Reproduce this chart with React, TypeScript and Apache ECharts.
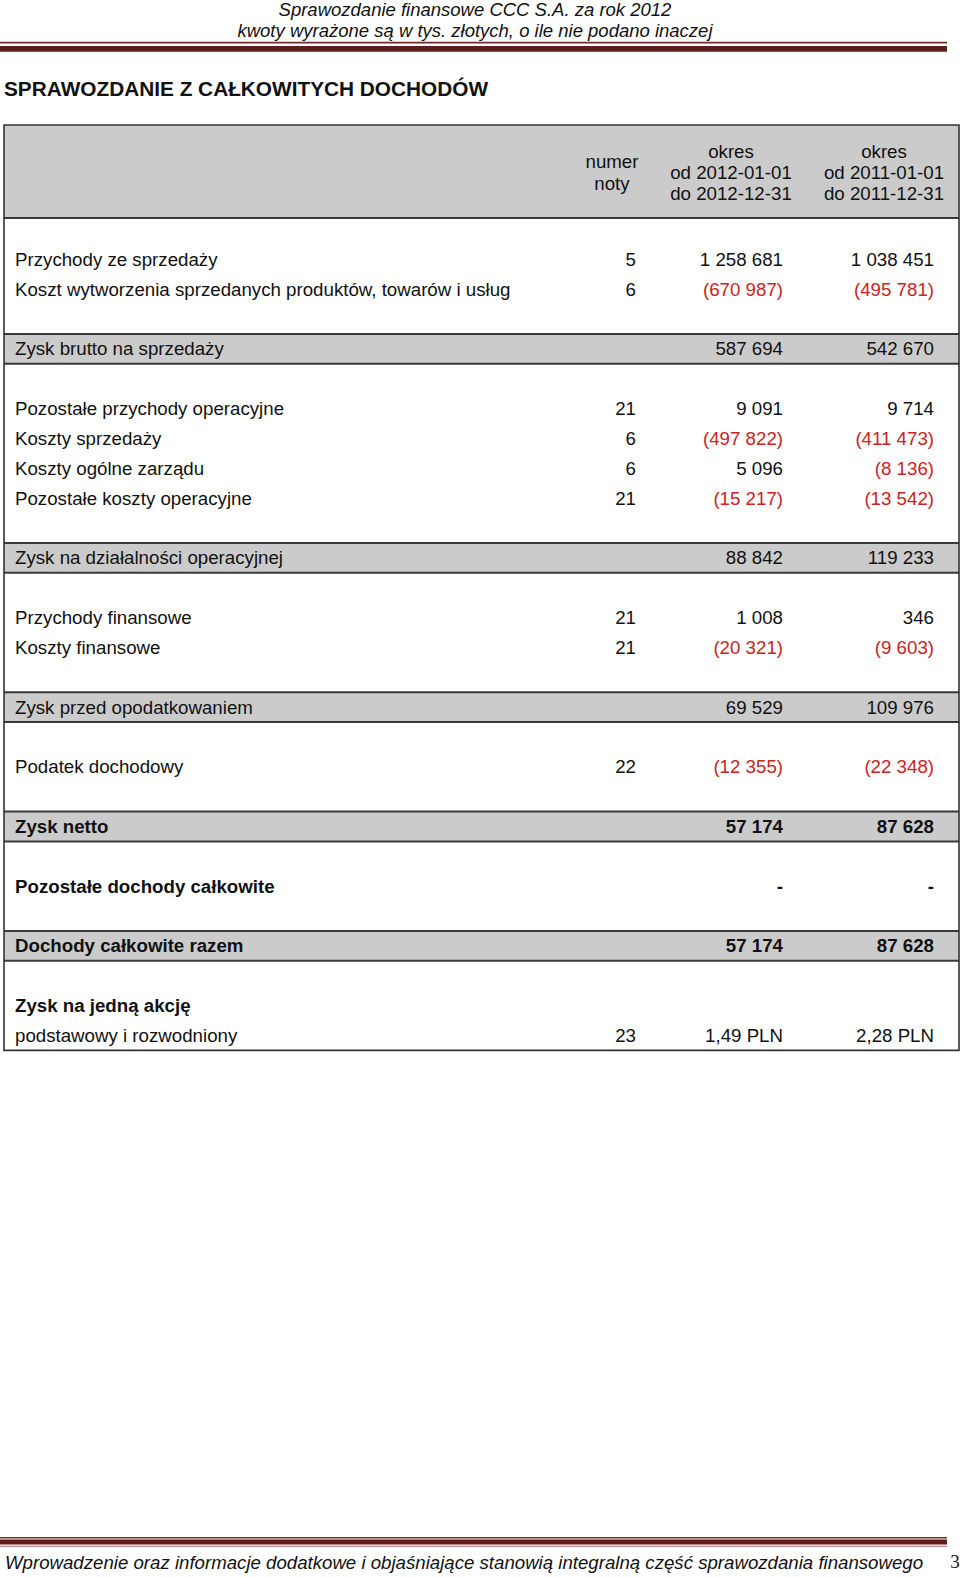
import React, { useEffect, useRef } from "react";
import * as echarts from "echarts";

// ---- data ----
const pageTitleLines = [
  "Sprawozdanie finansowe CCC S.A. za rok 2012",
  "kwoty wyrażone są w tys. złotych, o ile nie podano inaczej",
];
const statementTitle = "SPRAWOZDANIE Z CAŁKOWITYCH DOCHODÓW";
const noteHeader = ["numer", "noty"];
const periodHeaders2012 = ["okres", "od 2012-01-01", "do 2012-12-31"];
const periodHeaders2011 = ["okres", "od 2011-01-01", "do 2011-12-31"];

const rowLabels = [
  "Przychody ze sprzedaży",
  "Koszt wytworzenia sprzedanych produktów, towarów i usług",
  "Zysk brutto na sprzedaży",
  "Pozostałe przychody operacyjne",
  "Koszty sprzedaży",
  "Koszty ogólne zarządu",
  "Pozostałe koszty operacyjne",
  "Zysk na działalności operacyjnej",
  "Przychody finansowe",
  "Koszty finansowe",
  "Zysk przed opodatkowaniem",
  "Podatek dochodowy",
  "Zysk netto",
  "Pozostałe dochody całkowite",
  "Dochody całkowite razem",
  "Zysk na jedną akcję",
  "podstawowy i rozwodniony",
];
const noteNumbers = ["5", "6", "", "21", "6", "6", "21", "", "21", "21", "", "22", "", "", "", "", "23"];
const amounts2012: (number | null)[] = [
  1258681, -670987, 587694, 9091, -497822, 5096, -15217, 88842, 1008, -20321, 69529, -12355, 57174, 0, 57174, null, 1.49,
];
const amounts2011: (number | null)[] = [
  1038451, -495781, 542670, 9714, -411473, -8136, -13542, 119233, 346, -9603, 109976, -22348, 87628, 0, 87628, null, 2.28,
];
// item | band | bandBold | itemBold | heading
const rowKinds = [
  "item", "item", "band", "item", "item", "item", "item", "band", "item", "item", "band", "item",
  "bandBold", "itemBold", "bandBold", "heading", "item",
];
// thousands | pln
const amountFormats = [
  "k", "k", "k", "k", "k", "k", "k", "k", "k", "k", "k", "k", "k", "k", "k", "k", "pln",
];
const footerText =
  "Wprowadzenie oraz informacje dodatkowe i objaśniające stanowią integralną część sprawozdania finansowego";
const pageNumber = "3";

// ---- styling / layout ----
const FONT = "'Liberation Sans', Arial, sans-serif";
const FS = 18.7;
const RED = "#cc2222";
const INK = "#111111";
const GRAY = "#cbcbcb";
const LINE = "#3a3a3a";
const MAROON = "#5e1d1d";

const TABLE_L = 4;
const TABLE_R = 959;
const TABLE_T = 125;
const HEADER_B = 218;
const FIRST_ROW_T = 244.45;
const ROW_H = 29.85;
const LABEL_X = 15;
const NOTE_R = 636;
const V1_R = 783;
const V2_R = 934;

function groupThousands(n: number): string {
  const s = String(Math.round(Math.abs(n)));
  return s.replace(/\B(?=(\d{3})+(?!\d))/g, " ");
}

function formatAmount(v: number | null, fmt: string): { text: string; neg: boolean } {
  if (v === null) return { text: "", neg: false };
  if (fmt === "pln") return { text: v.toFixed(2).replace(".", ",") + " PLN", neg: v < 0 };
  if (v === 0) return { text: "-", neg: false };
  if (v < 0) return { text: "(" + groupThousands(v) + ")", neg: true };
  return { text: groupThousands(v), neg: false };
}

function txt(text: string, x: number, y: number, align: string, font: string, fill: string) {
  return {
    type: "text",
    silent: true,
    z: 10,
    style: {
      text,
      x,
      y,
      font,
      fill,
      textAlign: align,
      textVerticalAlign: "middle",
      align,
      verticalAlign: "middle",
    },
  };
}

function buildGraphics() {
  const els: any[] = [];
  const reg = `${FS}px ${FONT}`;
  const bold = `bold ${FS}px ${FONT}`;
  const ital = `italic 18.5px ${FONT}`;

  // page header
  els.push(txt(pageTitleLines[0], 475, 9.5, "center", ital, INK));
  els.push(txt(pageTitleLines[1], 475, 30.5, "center", ital, INK));
  els.push({ type: "rect", silent: true, shape: { x: 0, y: 41.8, width: 947, height: 1.6 }, style: { fill: "#6e2b2b" } });
  els.push({ type: "rect", silent: true, shape: { x: 0, y: 46, width: 947, height: 5.7 }, style: { fill: MAROON } });

  els.push(txt(statementTitle, 4, 88, "left", `bold 20.8px ${FONT}`, INK));

  // table header
  els.push({
    type: "rect",
    silent: true,
    shape: { x: TABLE_L, y: TABLE_T, width: TABLE_R - TABLE_L, height: HEADER_B - TABLE_T },
    style: { fill: GRAY },
  });
  els.push(txt(noteHeader[0], 612, 161.5, "center", reg, INK));
  els.push(txt(noteHeader[1], 612, 183, "center", reg, INK));
  const hy = [151, 172, 193.5];
  periodHeaders2012.forEach((t, i) => els.push(txt(t, 731, hy[i], "center", reg, INK)));
  periodHeaders2011.forEach((t, i) => els.push(txt(t, 884, hy[i], "center", reg, INK)));
  els.push({
    type: "line",
    silent: true,
    z: 5,
    shape: { x1: TABLE_L, y1: HEADER_B, x2: TABLE_R, y2: HEADER_B },
    style: { stroke: LINE, lineWidth: 2 },
  });

  // slot structure
  const slots: (number | -1)[] = [-1];
  rowLabels.forEach((_, i) => {
    const k = rowKinds[i];
    if (k === "band" || k === "bandBold") {
      if (slots[slots.length - 1] !== -1) slots.push(-1);
      slots.push(i);
      slots.push(-1);
    } else {
      slots.push(i);
    }
  });

  slots.forEach((ri, s) => {
    if (s === 0 || ri === -1) return;
    const top = FIRST_ROW_T + (s - 1) * ROW_H;
    const cy = top + ROW_H / 2;
    const k = rowKinds[ri];
    const isBand = k === "band" || k === "bandBold";
    const isBold = k === "bandBold" || k === "itemBold" || k === "heading";
    if (isBand) {
      els.push({
        type: "rect",
        silent: true,
        shape: { x: TABLE_L, y: top, width: TABLE_R - TABLE_L, height: ROW_H },
        style: { fill: GRAY },
      });
      [top, top + ROW_H].forEach((ly) =>
        els.push({
          type: "line",
          silent: true,
          z: 5,
          shape: { x1: TABLE_L, y1: ly, x2: TABLE_R, y2: ly },
          style: { stroke: LINE, lineWidth: 2 },
        })
      );
    }
    const f = isBold ? bold : reg;
    els.push(txt(rowLabels[ri], LABEL_X, cy, "left", f, INK));
    if (noteNumbers[ri]) els.push(txt(noteNumbers[ri], NOTE_R, cy, "right", f, INK));
    const a = formatAmount(amounts2012[ri], amountFormats[ri]);
    const b = formatAmount(amounts2011[ri], amountFormats[ri]);
    if (a.text) els.push(txt(a.text, V1_R, cy, "right", f, a.neg ? RED : INK));
    if (b.text) els.push(txt(b.text, V2_R, cy, "right", f, b.neg ? RED : INK));
  });

  const tableBottom = FIRST_ROW_T + (slots.length - 1) * ROW_H;
  els.push({
    type: "rect",
    silent: true,
    z: 6,
    shape: { x: TABLE_L, y: TABLE_T, width: TABLE_R - TABLE_L, height: tableBottom - TABLE_T },
    style: { fill: "none", stroke: "#333333", lineWidth: 1.6 },
  });

  // page footer
  els.push({ type: "rect", silent: true, shape: { x: 0, y: 1537, width: 947, height: 1.5 }, style: { fill: "#6e2b2b" } });
  els.push({ type: "rect", silent: true, shape: { x: 0, y: 1539.5, width: 947, height: 5 }, style: { fill: MAROON } });
  els.push({ type: "rect", silent: true, shape: { x: 0, y: 1545.8, width: 947, height: 1 }, style: { fill: "#a86a6a" } });
  els.push(txt(footerText, 5, 1562, "left", `italic 18.65px ${FONT}`, INK));
  els.push(txt(pageNumber, 955, 1561.5, "center", `19px 'Liberation Serif', 'Times New Roman', serif`, INK));

  return els;
}

export default function App() {
  const ref = useRef<HTMLDivElement>(null);
  useEffect(() => {
    if (!ref.current) return;
    const chart = echarts.init(ref.current, null, { renderer: "svg" });
    chart.setOption({
      animation: false,
      backgroundColor: "#ffffff",
      graphic: { elements: buildGraphics() },
    });
    return () => chart.dispose();
  }, []);
  return (
    <div
      ref={ref}
      style={{ position: "fixed", left: 0, top: 0, width: 960, height: 1577, background: "#fff" }}
    />
  );
}
